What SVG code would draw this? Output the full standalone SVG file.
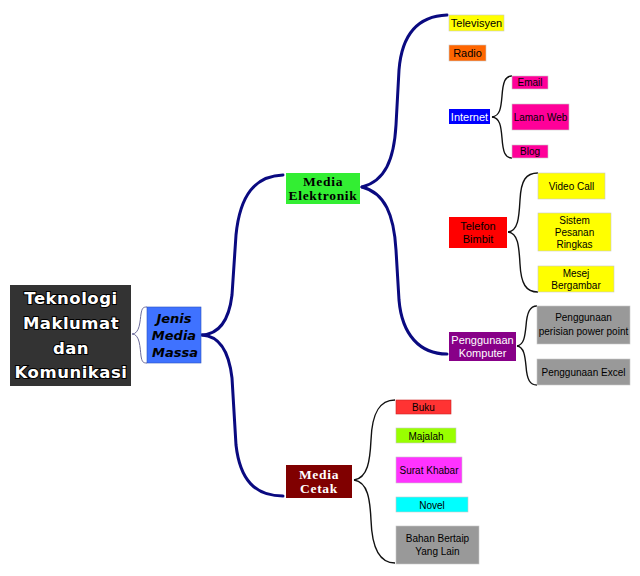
<svg xmlns="http://www.w3.org/2000/svg" width="640" height="576" viewBox="0 0 640 576">
<style>
.main{fill:none;stroke:#0a0a80;stroke-width:3;stroke-linecap:round}
.thin{fill:none;stroke:#111;stroke-width:1.4}
.a10{font-family:"Liberation Sans",Arial,sans-serif;font-size:10px;fill:#000;text-anchor:middle}
.a11{font-family:"Liberation Sans",Arial,sans-serif;font-size:11px;fill:#000;text-anchor:middle}
.a11.w{fill:#fff}
.ser{font-family:"Liberation Serif","Times New Roman",serif;font-size:13.5px;font-weight:bold;text-anchor:middle;letter-spacing:0.7px;fill:#000}
.ser.w{fill:#fff}
.leaf{stroke:#c8c8c8;stroke-width:0.6}
</style>
<rect width="640" height="576" fill="#fff"/>
<g id="connectors">
<path d="M132,334 C140,334 140,320 141,314 C142,308 143,307 147,307" fill="none" stroke="#6a6a9a" stroke-width="1"/>
<path d="M132,334 C140,334 140,348 141,356 C142,362 143,363 147,363" fill="none" stroke="#6a6a9a" stroke-width="1"/>
<path class="main" d="M202,335 C220,334 229,320 232,295 L236,235 C240,195 255,176 283,175"/>
<path class="main" d="M202,335 C220,336 229,352 232,378 L236,445 C240,480 255,496 283,496"/>
<path class="main" d="M362,187 C385,181 394,160 396,125 L399,70 C402,32 420,16 447,15"/>
<path class="main" d="M362,187 C385,193 394,215 396,250 L399,300 C402,335 420,354 447,354"/>
<path class="thin" d="M492,117 C500,116 501,108 502,96 C503,82 505,76 512,76"/>
<path class="thin" d="M492,117 C500,118 501,126 502,138 C503,152 505,158 512,158"/>
<path class="thin" d="M508,232 C518,231 519,218 520,200 C521,180 526,173 538,173"/>
<path class="thin" d="M508,232 C518,233 519,246 520,264 C521,284 526,292 538,292"/>
<path class="thin" d="M517,346 C524,345 525,336 526,326 C527,312 530,306 537,306"/>
<path class="thin" d="M517,346 C524,347 525,356 526,366 C527,380 530,385 537,385"/>
<path class="thin" d="M354,480 C368,478 370,460 371,440 C372,412 380,400 395,400" stroke="#142014"/>
<path class="thin" d="M354,480 C368,482 370,500 371,520 C372,550 380,563 395,563" stroke="#142014"/>
</g>
<g id="n-tmk">
<rect x="10" y="285" width="121" height="101" fill="#333"/>
<g font-family="'DejaVu Sans',Verdana,sans-serif" font-size="16.5" font-weight="bold" fill="#fff" stroke="#000" stroke-width="2" paint-order="stroke" text-anchor="middle" letter-spacing="0.5">
<text x="71" y="304">Teknologi</text>
<text x="71" y="329">Maklumat</text>
<text x="71" y="354">dan</text>
<text x="71" y="378">Komunikasi</text>
</g>
</g>
<g id="n-jenis">
<rect x="147" y="307" width="54" height="56" fill="#3f72ff" stroke="#2a50c0" stroke-width="0.6"/>
<g font-family="'DejaVu Sans',Verdana,sans-serif" font-size="13" font-weight="bold" font-style="italic" fill="#000" text-anchor="middle">
<text x="174" y="323">Jenis</text>
<text x="174" y="340">Media</text>
<text x="175" y="357">Massa</text>
</g>
</g>
<g id="n-elektronik">
<rect x="286" y="173" width="74" height="31" fill="#33ee33"/>
<text class="ser" x="323" y="186">Media</text>
<text class="ser" x="323" y="200">Elektronik</text>
</g>
<g id="n-cetak">
<rect x="286" y="465" width="66" height="33" fill="#800000"/>
<text class="ser w" x="319" y="479">Media</text>
<text class="ser w" x="319" y="493">Cetak</text>
</g>
<g id="n-televisyen">
<rect x="449" y="15" width="55" height="16" fill="#ffff00" class="leaf"/>
<text class="a11" x="476.5" y="27">Televisyen</text>
</g>
<g id="n-radio">
<rect x="449" y="45" width="37" height="16" fill="#ff6600" class="leaf"/>
<text class="a11" x="467.5" y="57">Radio</text>
</g>
<g id="n-internet">
<rect x="449" y="109" width="41" height="15" fill="#0000ff"/>
<text class="a11 w" x="469.5" y="121">Internet</text>
</g>
<g id="n-email">
<rect x="512" y="76" width="36" height="13" fill="#ff0099" class="leaf"/>
<text class="a10" x="530" y="86">Email</text>
</g>
<g id="n-lamanweb">
<rect x="512" y="104" width="57" height="26" fill="#ff0099" class="leaf"/>
<text class="a10" x="540.5" y="121">Laman Web</text>
</g>
<g id="n-blog">
<rect x="512" y="145" width="36" height="13" fill="#ff0099" class="leaf"/>
<text class="a10" x="530" y="155">Blog</text>
</g>
<g id="n-telefon">
<rect x="449" y="217" width="58" height="31" fill="#ff0000"/>
<text class="a11" x="478" y="230">Telefon</text>
<text class="a11" x="478" y="243">Bimbit</text>
</g>
<g id="n-videocall">
<rect x="538" y="173" width="67" height="26" fill="#ffff00" class="leaf"/>
<text class="a10" x="571.5" y="189.5">Video Call</text>
</g>
<g id="n-sms">
<rect x="538" y="213" width="73" height="38" fill="#ffff00" class="leaf"/>
<text class="a10" x="574.5" y="224">Sistem</text>
<text class="a10" x="574.5" y="236">Pesanan</text>
<text class="a10" x="574.5" y="248">Ringkas</text>
</g>
<g id="n-mms">
<rect x="538" y="266" width="76" height="26" fill="#ffff00" class="leaf"/>
<text class="a10" x="576" y="277">Mesej</text>
<text class="a10" x="576" y="289">Bergambar</text>
</g>
<g id="n-komputer">
<rect x="449" y="332" width="67" height="29" fill="#880088"/>
<text class="a11 w" x="482.5" y="344">Penggunaan</text>
<text class="a11 w" x="482.5" y="357">Komputer</text>
</g>
<g id="n-powerpoint">
<rect x="537" y="306" width="93" height="38" fill="#999999" class="leaf"/>
<text class="a10" x="583.5" y="321">Penggunaan</text>
<text class="a10" x="583.5" y="335">perisian power point</text>
</g>
<g id="n-excel">
<rect x="537" y="359" width="93" height="26" fill="#999999" class="leaf"/>
<text class="a10" x="583.5" y="375.5">Penggunaan Excel</text>
</g>
<g id="n-buku">
<rect x="396" y="400" width="55" height="14" fill="#ff3333" stroke="#cc2222" stroke-width="0.6"/>
<text class="a10" x="423.5" y="411">Buku</text>
</g>
<g id="n-majalah">
<rect x="396" y="428" width="60" height="15" fill="#99ff00" class="leaf"/>
<text class="a10" x="426" y="439.5">Majalah</text>
</g>
<g id="n-suratkhabar">
<rect x="396" y="457" width="66" height="26" fill="#ff33ff" class="leaf"/>
<text class="a10" x="429" y="473.5">Surat Khabar</text>
</g>
<g id="n-novel">
<rect x="396" y="497" width="72" height="15" fill="#00ffff" class="leaf"/>
<text class="a10" x="432" y="508.5">Novel</text>
</g>
<g id="n-bahan">
<rect x="396" y="526" width="83" height="38" fill="#999999" class="leaf"/>
<text class="a10" x="437.5" y="542">Bahan Bertaip</text>
<text class="a10" x="437.5" y="555">Yang Lain</text>
</g>
</svg>
